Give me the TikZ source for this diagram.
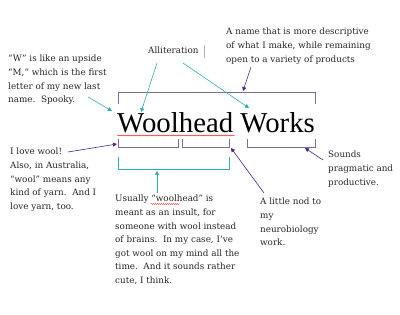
\documentclass[tikz,border=0pt]{standalone}
\usepackage{fontspec}
\setmainfont{DejaVu Serif}
\newfontfamily\titlefont{Liberation Serif}
\usetikzlibrary{arrows.meta,decorations.pathmorphing}
\definecolor{brk}{HTML}{7D6E9E}
\definecolor{arp}{HTML}{4A2490}
\definecolor{tea}{HTML}{2FADAD}
\tikzset{
  note/.style={anchor=north west,inner sep=0pt,align=left,font=\fontsize{8.8}{13.6}\selectfont,text=black!85},
  bracket/.style={draw=brk,line width=0.8pt},
  tbracket/.style={draw=tea,line width=0.8pt},
  parrow/.style={draw=arp,line width=0.6pt,-{Triangle[length=4pt,width=4pt]}},
  tarrow/.style={draw=tea,line width=0.6pt,-{Triangle[length=4pt,width=4pt]}},
  squig/.style={draw=red,line width=0.3pt,decorate,decoration={snake,amplitude=0.5pt,segment length=2pt}}
}
\begin{document}
\begin{tikzpicture}[x=1pt,y=-1pt]
\useasboundingbox (0,0) rectangle (400,315);
% title
\node[anchor=base west,inner sep=0pt,font=\titlefont\fontsize{28.8}{30}\selectfont] (title) at (117,133) {Woolhead Works};
\draw[squig] (117,135.5) -- (235,135.5);
% notes
\node[note] (wnote) at (8,55) {“W” is like an upside\\“M,” which is the first\\letter of my new last\\name.\ \ Spooky.};
\node[note] (allit) at (148,47) {Alliteration};
\draw[gray!60,line width=0.4pt] (204,45) -- (204,58);
\node[note] (name) at (226,28) {A name that is more descriptive\\of what I make, while remaining\\open to a variety of products};
\node[note] (love) at (10,148) {I love wool!\\Also, in Australia,\\“wool” means any\\kind of yarn.\ \ And I\\love yarn, too.};
\node[note] (usually) at (115,195) {Usually “woolhead” is\\meant as an insult, for\\someone with wool instead\\of brains.\ \ In my case, I’ve\\got wool on my mind all the\\time.\ \ And it sounds rather\\cute, I think.};
\draw[squig] (151,204) -- (180,204);
\node[note] (nod) at (260,198) {A little nod to\\my\\neurobiology\\work.};
\node[note] (sounds) at (328,151) {Sounds\\pragmatic and\\productive.};
% brackets
\draw[bracket] (118,104) -- (118,92) -- (315,92) -- (315,104);
\draw[bracket] (118,139) -- (118,147) -- (178,147) -- (178,139);
\draw[bracket] (182,139) -- (182,147) -- (229,147) -- (229,139);
\draw[bracket] (247,139) -- (247,147) -- (315,147) -- (315,139);
\draw[tbracket] (118,157) -- (118,169) -- (229,169) -- (229,157);
% arrow end points
\coordinate (w1) at (88,97);   \coordinate (w2) at (112,111);
\coordinate (a1) at (157,63);  \coordinate (a2) at (141,112);
\coordinate (a3) at (183,63);  \coordinate (a4) at (249,108);
\coordinate (n1) at (251,67);  \coordinate (n2) at (243,91);
\coordinate (l1) at (68,152);  \coordinate (l2) at (117,144);
\coordinate (u1) at (157,193); \coordinate (u2) at (157,171);
\coordinate (d1) at (264,193); \coordinate (d2) at (231,148);
\coordinate (s1) at (323,160); \coordinate (s2) at (305,148);
\draw[tarrow] (w1) -- (w2);
\draw[tarrow] (a1) -- (a2);
\draw[tarrow] (a3) -- (a4);
\draw[parrow] (n1) -- (n2);
\draw[parrow] (l1) -- (l2);
\draw[tarrow] (u1) -- (u2);
\draw[parrow] (d1) -- (d2);
\draw[parrow] (s1) -- (s2);
\end{tikzpicture}
\end{document}
